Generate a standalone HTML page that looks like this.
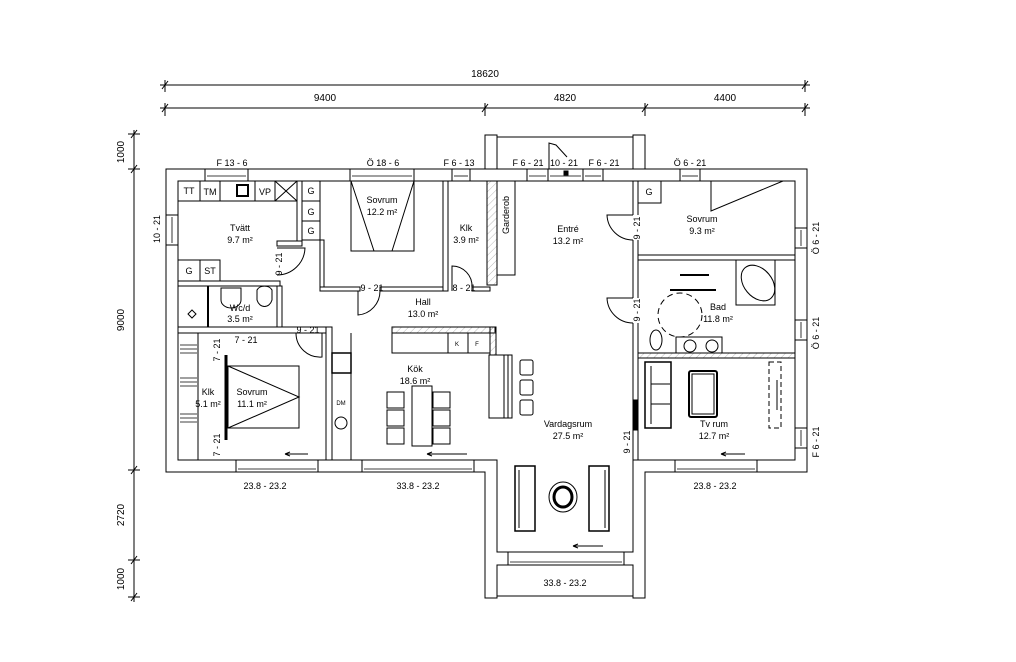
<!DOCTYPE html>
<html><head><meta charset="utf-8"><style>
html,body{margin:0;padding:0;background:#fff;}
svg{display:block;}
text{font-family:"Liberation Sans",sans-serif;fill:#000;}
</style></head><body>
<svg width="1016" height="662" viewBox="0 0 1016 662" xmlns="http://www.w3.org/2000/svg">
<defs>
<pattern id="h" width="5" height="5" patternUnits="userSpaceOnUse" patternTransform="rotate(45)">
<line x1="0" y1="0" x2="0" y2="5" stroke="#888" stroke-width="0.6"/></pattern>
</defs>
<g stroke="#000" stroke-width="1" fill="none">
<line x1="160" y1="85" x2="810" y2="85"/>
<line x1="160" y1="108" x2="810" y2="108"/>
<line x1="165" y1="80" x2="165" y2="92"/><line x1="805" y1="80" x2="805" y2="92"/>
<line x1="162" y1="89" x2="168" y2="81"/><line x1="802" y1="89" x2="808" y2="81"/>
<line x1="165" y1="103" x2="165" y2="116"/><line x1="485" y1="103" x2="485" y2="116"/><line x1="645" y1="103" x2="645" y2="116"/><line x1="805" y1="103" x2="805" y2="116"/>
<line x1="162" y1="112" x2="168" y2="104"/><line x1="482" y1="112" x2="488" y2="104"/><line x1="642" y1="112" x2="648" y2="104"/><line x1="802" y1="112" x2="808" y2="104"/>
<line x1="134" y1="130" x2="134" y2="602"/>
<g>
<line x1="128" y1="134" x2="140" y2="134"/><line x1="128" y1="169" x2="140" y2="169"/><line x1="128" y1="470" x2="140" y2="470"/><line x1="128" y1="560" x2="140" y2="560"/><line x1="128" y1="597" x2="140" y2="597"/>
<line x1="131" y1="138" x2="137" y2="130"/><line x1="131" y1="173" x2="137" y2="165"/><line x1="131" y1="474" x2="137" y2="466"/><line x1="131" y1="564" x2="137" y2="556"/><line x1="131" y1="601" x2="137" y2="593"/>
</g>
<path d="M166,169 H807 V472 H645 V598 H633 V565 H497 V598 H485 V472 H166 Z" fill="#fff"/>
<path d="M178,181 H795 V460 H633 V552 H497 V460 H178 Z"/>
<rect x="497" y="565" width="136" height="31"/>
<path d="M485,169 V135 H497 V137 H633 V135 H645 V169"/>
<line x1="497" y1="137" x2="497" y2="169"/><line x1="633" y1="137" x2="633" y2="169"/>
<path d="M549,169 V143 L556,145 L567,157"/>
<g fill="#fff">
<rect x="205" y="169" width="43" height="12"/><rect x="350" y="169" width="64" height="12"/>
<rect x="452" y="169" width="18" height="12"/><rect x="527" y="169" width="21" height="12"/>
<rect x="548" y="169" width="35" height="12"/><rect x="583" y="169" width="20" height="12"/>
<rect x="680" y="169" width="20" height="12"/>
<rect x="795" y="228" width="12" height="20"/><rect x="795" y="320" width="12" height="20"/><rect x="795" y="428" width="12" height="20"/>
<rect x="166" y="215" width="12" height="30"/>
<rect x="236" y="460" width="82" height="12"/><rect x="362" y="460" width="112" height="12"/>
<rect x="675" y="460" width="82" height="12"/><rect x="508" y="552" width="116" height="13"/>
</g>
<g stroke-width="0.8">
<line x1="207" y1="176" x2="246" y2="176"/><line x1="352" y1="176" x2="412" y2="176"/><line x1="454" y1="176" x2="468" y2="176"/>
<line x1="529" y1="176" x2="546" y2="176"/><line x1="550" y1="176" x2="581" y2="176"/><line x1="585" y1="176" x2="601" y2="176"/><line x1="682" y1="176" x2="698" y2="176"/>
<line x1="801" y1="230" x2="801" y2="246"/><line x1="801" y1="322" x2="801" y2="338"/><line x1="801" y1="430" x2="801" y2="446"/>
<line x1="172" y1="217" x2="172" y2="243"/>
<line x1="238" y1="469" x2="316" y2="469"/><line x1="364" y1="469" x2="472" y2="469"/><line x1="677" y1="469" x2="755" y2="469"/><line x1="510" y1="562" x2="622" y2="562"/>
</g>
<rect x="564" y="171" width="4" height="4" fill="#000"/>
<g fill="#fff">
<rect x="297" y="181" width="5" height="60"/>
<rect x="178" y="281" width="102" height="5"/>
<rect x="277" y="241" width="25" height="5"/>
<rect x="277" y="286" width="5" height="42"/>
<rect x="178" y="327" width="150" height="6"/>
<rect x="302" y="181" width="18" height="59"/>
<rect x="320" y="240" width="4" height="50"/>
<rect x="320" y="287" width="40" height="4"/>
<rect x="380" y="287" width="68" height="4"/>
<rect x="443" y="181" width="5" height="110"/>
<rect x="472" y="287" width="18" height="4"/>
<rect x="487" y="181" width="10" height="104" fill="url(#h)"/>
<rect x="497" y="181" width="18" height="94"/>
<rect x="326" y="327" width="6" height="133"/>
<rect x="392" y="327" width="103" height="6" fill="url(#h)"/>
<rect x="490" y="327" width="6" height="28" fill="url(#h)"/>
<rect x="633" y="181" width="5" height="279"/>
<rect x="638" y="255" width="157" height="5"/>
<rect x="638" y="353" width="157" height="5" fill="url(#h)"/>
<rect x="633" y="400" width="4" height="30" fill="#000"/>
</g>
<g fill="#fff" stroke="none">
<rect x="631" y="215" width="9" height="25"/><rect x="631" y="298" width="9" height="25"/>
<rect x="275" y="248" width="9" height="30"/>
</g>
<path d="M633,215 H607 A26,26 0 0 0 633,240"/>
<path d="M633,298 H607 A26,26 0 0 0 633,323"/>
<path d="M277,248 H305 A28,28 0 0 1 277,275"/>
<path d="M358,291 V315 A24,24 0 0 0 380,291"/>
<path d="M452,291 V266 A20,20 0 0 1 472,287"/>
<path d="M296,333 A24,24 0 0 0 322,357 V333"/>
<rect x="178" y="181" width="119" height="20"/>
<line x1="200" y1="181" x2="200" y2="201"/><line x1="220" y1="181" x2="220" y2="201"/><line x1="255" y1="181" x2="255" y2="201"/><line x1="275" y1="181" x2="275" y2="201"/>
<line x1="275" y1="181" x2="297" y2="201"/><line x1="297" y1="181" x2="275" y2="201"/>
<rect x="237" y="185" width="11" height="11" stroke-width="2"/>
<rect x="178" y="260" width="42" height="21"/><line x1="200" y1="260" x2="200" y2="281"/>
<rect x="302" y="181" width="18" height="20"/><rect x="302" y="201" width="18" height="20"/>
<line x1="208" y1="286" x2="208" y2="327" stroke-width="2"/>
<path d="M221,288 H241 V300 A10,8 0 0 1 221,300 Z"/>
<path d="M257,290 A8,6 0 0 1 272,290 V300 A8,10 0 0 1 257,300 Z"/>
<path d="M192,310 L196,314 L192,318 L188,314 Z"/>
<rect x="351" y="181" width="63" height="70"/>
<path d="M351,181 L374,251 L392,251 L414,181"/>
<rect x="228" y="366" width="71" height="62"/>
<path d="M228,366 L299,397 L228,428"/>
<line x1="226" y1="355" x2="226" y2="440" stroke-width="3"/>
<line x1="198" y1="333" x2="198" y2="460"/><line x1="178" y1="333" x2="178" y2="460"/>
<g stroke-width="0.7"><line x1="180" y1="345" x2="197" y2="345"/><line x1="180" y1="349" x2="197" y2="349"/><line x1="180" y1="353" x2="197" y2="353"/><line x1="180" y1="378" x2="197" y2="378"/><line x1="180" y1="382" x2="197" y2="382"/><line x1="180" y1="386" x2="197" y2="386"/><line x1="180" y1="414" x2="197" y2="414"/><line x1="180" y1="418" x2="197" y2="418"/><line x1="180" y1="422" x2="197" y2="422"/></g>
<line x1="351" y1="333" x2="351" y2="460"/>
<rect x="332" y="353" width="19" height="20" stroke-width="1.5"/>
<circle cx="341" cy="423" r="6"/>
<rect x="392" y="333" width="98" height="20"/>
<line x1="448" y1="333" x2="448" y2="353"/><line x1="468" y1="333" x2="468" y2="353"/>
<rect x="489" y="355" width="23" height="63"/><line x1="504" y1="355" x2="504" y2="418"/><line x1="508" y1="355" x2="508" y2="418"/>
<rect x="520" y="360" width="13" height="15" rx="2"/><rect x="520" y="380" width="13" height="15" rx="2"/><rect x="520" y="400" width="13" height="15" rx="2"/>
<rect x="412" y="386" width="20" height="60"/>
<rect x="387" y="392" width="17" height="16"/><rect x="387" y="410" width="17" height="16"/><rect x="387" y="428" width="17" height="16"/>
<rect x="433" y="392" width="17" height="16"/><rect x="433" y="410" width="17" height="16"/><rect x="433" y="428" width="17" height="16"/>
<g>
<line x1="285" y1="454" x2="308" y2="454"/><path d="M285,454 l5,-2 M285,454 l5,2"/>
<line x1="427" y1="454" x2="467" y2="454"/><path d="M427,454 l5,-2 M427,454 l5,2"/>
<line x1="721" y1="454" x2="745" y2="454"/><path d="M721,454 l5,-2 M721,454 l5,2"/>
<line x1="573" y1="546" x2="603" y2="546"/><path d="M573,546 l5,-2 M573,546 l5,2"/>
</g>
<rect x="515" y="466" width="20" height="65" stroke-width="1.5"/><line x1="519" y1="470" x2="519" y2="528"/>
<rect x="589" y="466" width="20" height="65" stroke-width="1.5"/><line x1="605" y1="470" x2="605" y2="528"/>
<ellipse cx="563" cy="497" rx="14" ry="15"/><ellipse cx="563" cy="497" rx="9" ry="10" stroke-width="3"/>
<rect x="638" y="181" width="23" height="22"/>
<path d="M711,181 V211 L783,181"/>
<rect x="736" y="260" width="39" height="45"/><ellipse cx="758" cy="283" rx="14" ry="20" transform="rotate(-40 758 283)"/>
<line x1="680" y1="275" x2="709" y2="275" stroke-width="2"/><line x1="670" y1="290" x2="716" y2="290" stroke-width="2"/>
<circle cx="680" cy="315" r="22" stroke-dasharray="6,4"/>
<rect x="676" y="337" width="46" height="16"/><circle cx="690" cy="346" r="6"/><circle cx="712" cy="346" r="6"/>
<ellipse cx="656" cy="340" rx="6" ry="10"/>
<rect x="645" y="362" width="26" height="66" stroke-width="1.5"/>
<line x1="651" y1="366" x2="651" y2="424"/><line x1="651" y1="384" x2="670" y2="384"/><line x1="651" y1="404" x2="670" y2="404"/>
<rect x="689" y="371" width="28" height="46" rx="2" stroke-width="2"/><rect x="692" y="374" width="22" height="40"/>
<rect x="769" y="362" width="12" height="66" stroke-dasharray="5,3"/><line x1="777" y1="380" x2="777" y2="410"/>
</g>
<g font-size="10">
<text x="485" y="77" text-anchor="middle">18620</text>
<text x="325" y="101" text-anchor="middle">9400</text>
<text x="565" y="101" text-anchor="middle">4820</text>
<text x="725" y="101" text-anchor="middle">4400</text>
<text transform="translate(124,152) rotate(-90)" text-anchor="middle">1000</text>
<text transform="translate(124,320) rotate(-90)" text-anchor="middle">9000</text>
<text transform="translate(124,515) rotate(-90)" text-anchor="middle">2720</text>
<text transform="translate(124,579) rotate(-90)" text-anchor="middle">1000</text>
</g>
<g font-size="9">
<text x="232" y="166" text-anchor="middle">F 13 - 6</text>
<text x="383" y="166" text-anchor="middle">Ö 18 - 6</text>
<text x="459" y="166" text-anchor="middle">F 6 - 13</text>
<text x="528" y="166" text-anchor="middle">F 6 - 21</text>
<text x="564" y="166" text-anchor="middle">10 - 21</text>
<text x="604" y="166" text-anchor="middle">F 6 - 21</text>
<text x="690" y="166" text-anchor="middle">Ö 6 - 21</text>
<text transform="translate(160,229) rotate(-90)" text-anchor="middle">10 - 21</text>
<text transform="translate(819,238) rotate(-90)" text-anchor="middle">Ö 6 - 21</text>
<text transform="translate(819,333) rotate(-90)" text-anchor="middle">Ö 6 - 21</text>
<text transform="translate(819,442) rotate(-90)" text-anchor="middle">F 6 - 21</text>
<text x="265" y="489" text-anchor="middle">23.8 - 23.2</text>
<text x="418" y="489" text-anchor="middle">33.8 - 23.2</text>
<text x="715" y="489" text-anchor="middle">23.8 - 23.2</text>
<text x="565" y="586" text-anchor="middle">33.8 - 23.2</text>
<text x="189" y="194" text-anchor="middle">TT</text>
<text x="210" y="195" text-anchor="middle">TM</text><text x="265" y="195" text-anchor="middle">VP</text>
<text x="311" y="194" text-anchor="middle">G</text><text x="311" y="215" text-anchor="middle">G</text><text x="311" y="234" text-anchor="middle">G</text>
<text x="189" y="274" text-anchor="middle">G</text><text x="210" y="274" text-anchor="middle">ST</text>
<text x="649" y="195" text-anchor="middle">G</text>
<text x="240" y="231" text-anchor="middle">Tvätt</text><text x="240" y="243" text-anchor="middle">9.7 m²</text>
<text x="382" y="203" text-anchor="middle">Sovrum</text><text x="382" y="215" text-anchor="middle">12.2 m²</text>
<text x="466" y="231" text-anchor="middle">Klk</text><text x="466" y="243" text-anchor="middle">3.9 m²</text>
<text x="568" y="232" text-anchor="middle">Entré</text><text x="568" y="244" text-anchor="middle">13.2 m²</text>
<text x="702" y="222" text-anchor="middle">Sovrum</text><text x="702" y="234" text-anchor="middle">9.3 m²</text>
<text x="240" y="311" text-anchor="middle">Wc/d</text><text x="240" y="322" text-anchor="middle">3.5 m²</text>
<text x="423" y="305" text-anchor="middle">Hall</text><text x="423" y="317" text-anchor="middle">13.0 m²</text>
<text x="718" y="310" text-anchor="middle">Bad</text><text x="718" y="322" text-anchor="middle">11.8 m²</text>
<text x="415" y="372" text-anchor="middle">Kök</text><text x="415" y="384" text-anchor="middle">18.6 m²</text>
<text x="208" y="395" text-anchor="middle">Klk</text><text x="208" y="407" text-anchor="middle">5.1 m²</text>
<text x="252" y="395" text-anchor="middle">Sovrum</text><text x="252" y="407" text-anchor="middle">11.1 m²</text>
<text x="568" y="427" text-anchor="middle">Vardagsrum</text><text x="568" y="439" text-anchor="middle">27.5 m²</text>
<text x="714" y="427" text-anchor="middle">Tv rum</text><text x="714" y="439" text-anchor="middle">12.7 m²</text>
<text x="372" y="291" text-anchor="middle">9 - 21</text>
<text x="464" y="291" text-anchor="middle">8 - 21</text>
<text x="308" y="333" text-anchor="middle">9 - 21</text>
<text x="246" y="343" text-anchor="middle">7 - 21</text>
<text transform="translate(282,264) rotate(-90)" text-anchor="middle">9 - 21</text>
<text transform="translate(640,228) rotate(-90)" text-anchor="middle">9 - 21</text>
<text transform="translate(640,310) rotate(-90)" text-anchor="middle">9 - 21</text>
<text transform="translate(630,442) rotate(-90)" text-anchor="middle">9 - 21</text>
<text transform="translate(220,350) rotate(-90)" text-anchor="middle">7 - 21</text>
<text transform="translate(220,445) rotate(-90)" text-anchor="middle">7 - 21</text>
<text transform="translate(509,215) rotate(-90)" text-anchor="middle">Garderob</text>
</g>
<g font-size="6">
<text x="457" y="346" text-anchor="middle">K</text><text x="477" y="346" text-anchor="middle">F</text>
<text x="341" y="405" text-anchor="middle">DM</text>
</g>
</svg>
</body></html>
